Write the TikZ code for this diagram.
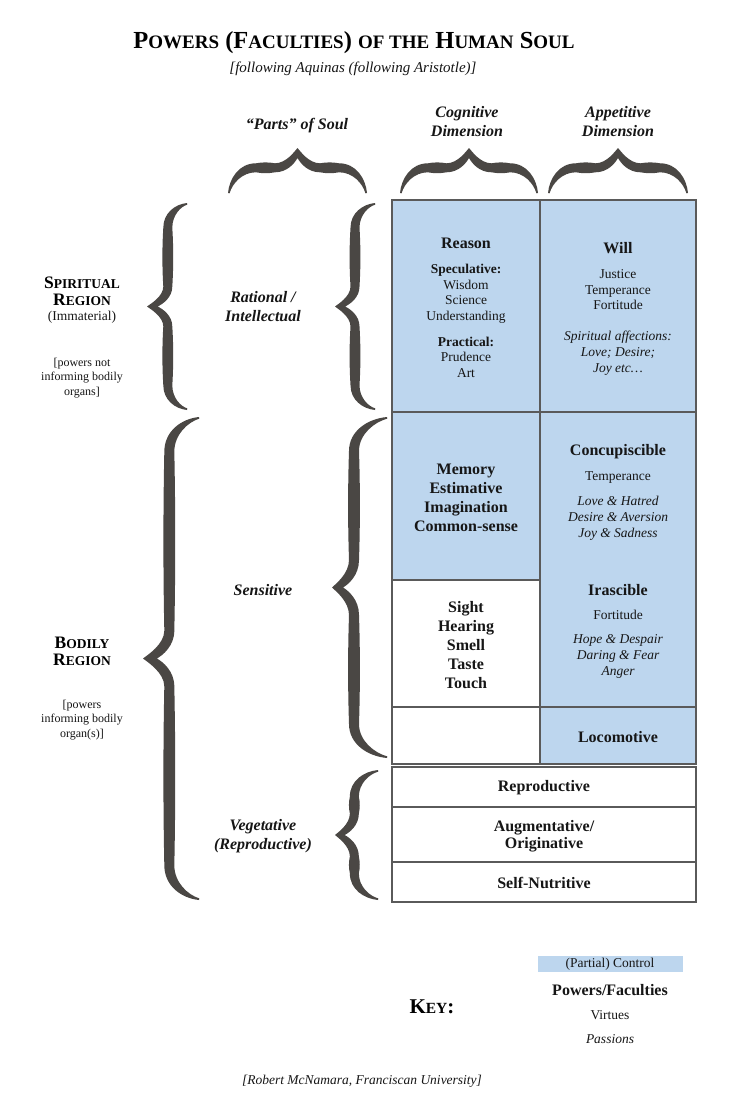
\documentclass[tikz,border=0pt]{standalone}
\usepackage{fontspec}
\setmainfont{Liberation Serif}
\definecolor{cellblue}{RGB}{189,214,238}
\definecolor{gridgray}{RGB}{90,90,90}
\definecolor{bracecol}{RGB}{74,71,68}
\definecolor{txt}{RGB}{22,22,22}
\newcommand{\fs}[2]{\fontsize{#1}{#2}\selectfont}
% brace in local coords: ends at v=0 (u=0 and u=L), tip at (L/2, D)
\newcommand{\brc}[4]{%
 \pgfmathsetmacro\bL{#1}%
 \pgfmathsetmacro\bD{#2}%
 \pgfmathsetmacro\bw{#3}%
 \pgfmathsetmacro\bm{\bL/2}%
 \pgfmathsetmacro\bs{#4*\bD}%
 \pgfmathsetmacro\bo{\bs+\bw/2}%
 \pgfmathsetmacro\bi{\bs-\bw/2}%
 \pgfmathsetmacro\bh{0.62*\bD}%
 \pgfmathsetmacro\bg{0.5*\bD}%
 \pgfmathsetmacro\bk{\bo+0.35*(\bD-\bo)}%
 \pgfmathsetmacro\bT{\bD-0.2*(\bD-\bo)}%
 \pgfmathsetmacro\bKc{\bk-0.35*(\bk-\bi)}%
 \pgfmathsetmacro\bA{\bh+(\bm-\bh-\bg)/3}%
 \pgfmathsetmacro\bB{\bm-\bg-(\bm-\bh-\bg)/3}%
 \pgfmathsetmacro\bC{\bm+\bg+(\bm-\bh-\bg)/3}%
 \pgfmathsetmacro\bE{\bL-\bh-(\bm-\bh-\bg)/3}%
 \pgfmathsetmacro\bOb{\bo+1.2}%
 \pgfmathsetmacro\bIb{\bi-1.2}%
 \fill[bracecol]
 (0,0) .. controls (0.05*\bh,0.5*\bo) and (0.4*\bh,\bo) .. (\bh,\bo)
 .. controls (\bA,\bOb) and (\bB,\bOb) .. (\bm-\bg,\bo)
 .. controls (\bm-0.5*\bg,\bo) and (\bm-0.12*\bg,\bT) .. (\bm,\bD)
 .. controls (\bm+0.12*\bg,\bT) and (\bm+0.5*\bg,\bo) .. (\bm+\bg,\bo)
 .. controls (\bC,\bOb) and (\bE,\bOb) .. (\bL-\bh,\bo)
 .. controls (\bL-0.4*\bh,\bo) and (\bL-0.05*\bh,0.5*\bo) .. (\bL,0)
 -- (\bL-1.6,-0.3)
 .. controls (\bL-0.15*\bh,0.45*\bi) and (\bL-0.5*\bh,\bi) .. (\bL-\bh,\bi)
 .. controls (\bE,\bIb) and (\bC,\bIb) .. (\bm+\bg,\bi)
 .. controls (\bm+0.45*\bg,\bi) and (\bm+0.12*\bg,\bKc) .. (\bm,\bk)
 .. controls (\bm-0.12*\bg,\bKc) and (\bm-0.45*\bg,\bi) .. (\bm-\bg,\bi)
 .. controls (\bB,\bIb) and (\bA,\bIb) .. (\bh,\bi)
 .. controls (0.5*\bh,\bi) and (0.15*\bh,0.45*\bi) .. (1.6,-0.3) -- cycle;
}
% vertical left-pointing brace: xe, ytop, ybot, depth, width, spine fraction
\newcommand{\vbrc}[6]{%
 \begin{scope}[shift={(#1,#2)}, x={(0pt,-1pt)}, y={(-1pt,0pt)}]
 \pgfmathsetmacro\bLen{#3-#2}%
 \brc{\bLen}{#4}{#5}{#6}
 \end{scope}}
% horizontal upward brace: xleft, ybottom, xright, depth, width, spine fraction
\newcommand{\hbrc}[6]{%
 \begin{scope}[shift={(#1,#2)}, x={(1pt,0pt)}, y={(0pt,1pt)}]
 \pgfmathsetmacro\bLen{#3-#1}%
 \brc{\bLen}{#4}{#5}{#6}
 \end{scope}}
\newcommand{\tsm}[1]{{\fs{19}{22}#1}}
\newcommand{\rsm}[1]{{\fs{13.5}{16}#1}}
\newcommand{\ksm}[1]{{\fs{15.5}{18}#1}}
\begin{document}
\begin{tikzpicture}[x=1pt,y=-1pt,
 every node/.style={inner sep=0pt, outer sep=0pt, align=center, text=txt},
 grid/.style={draw=gridgray, line width=1.2pt},
 head/.style={font=\fs{16}{19}\bfseries\itshape},
 part/.style={font=\fs{16}{19}\bfseries\itshape},
 power/.style={font=\fs{16}{19}\bfseries},
 virt/.style={font=\fs{13.5}{15.5}},
 pass/.style={font=\fs{13.5}{16}\itshape},
 note/.style={font=\fs{12}{14.5}}]
\useasboundingbox[fill=white] (0,0) rectangle (736,1112);

% title
\node[font=\fs{24.5}{28}\bfseries, text=black] (title) at (354,43)
 {P\tsm{OWERS} (F\tsm{ACULTIES}) \tsm{OF THE} H\tsm{UMAN} S\tsm{OUL}};
\node[font=\fs{15}{18}\itshape] (subtitle) at (353,69) {[following Aquinas (following Aristotle)]};

% column headers
\node[head] (hparts) at (297,126) {“Parts” of Soul};
\node[head] (hcog) at (467,122) {Cognitive\\Dimension};
\node[head] (happ) at (618,122) {Appetitive\\Dimension};

% top braces
\hbrc{228}{193}{367}{45}{9}{0.56}
\hbrc{400}{193}{538}{45}{9}{0.56}
\hbrc{548}{193}{688}{45}{9}{0.56}

% cells
\fill[cellblue] (392,200) rectangle (696,580);
\fill[cellblue] (540,580) rectangle (696,764);
\draw[grid] (392,200) rectangle (696,764);
\draw[grid] (540,200) -- (540,764);
\draw[grid] (392,412) -- (696,412);
\draw[grid] (392,580) -- (540,580);
\draw[grid] (392,707) -- (696,707);
\draw[grid] (392,767) rectangle (696,902);
\draw[grid] (392,807) -- (696,807);
\draw[grid] (392,862) -- (696,862);

% vertical braces
\vbrc{187}{203}{410}{40}{9}{0.48}
\vbrc{375}{203}{410}{40}{9}{0.5}
\vbrc{199}{417}{900}{56}{10}{0.53}
\vbrc{387}{417}{758}{55}{10}{0.6}
\vbrc{378}{770}{900}{43}{9}{0.55}

% left region labels
\node[font=\fs{17.5}{18}\bfseries, text=black] (spir) at (82,291)
 {S\rsm{PIRITUAL}\\[-1pt] R\rsm{EGION}};
\node[font=\fs{13.5}{16}] (immat) at (82,317) {(Immaterial)};
\node[note] (spirnote) at (82,378) {[powers not\\informing bodily\\organs]};
\node[font=\fs{17.5}{18}\bfseries, text=black] (bod) at (82,651)
 {B\rsm{ODILY}\\[-1pt] R\rsm{EGION}};
\node[note] (bodnote) at (82,720) {[powers\\informing bodily\\organ(s)]};

% parts labels
\node[part] (rational) at (263,307) {Rational /\\Intellectual};
\node[part] (sensitive) at (263,590) {Sensitive};
\node[part] (veget) at (263,836) {Vegetative\\(Reproductive)};

% rational row
\node[power] (reason) at (466,243) {Reason};
\node[virt] (spec) at (466,294) {\textbf{Speculative:}\\Wisdom\\Science\\Understanding};
\node[virt] (pract) at (466,357) {\textbf{Practical:}\\Prudence\\Art};
\node[power] (will) at (618,248) {Will};
\node[virt] (willv) at (618,290) {Justice\\Temperance\\Fortitude};
\node[pass] (willp) at (618,353) {Spiritual affections:\\Love; Desire;\\Joy etc…};

% sensitive row
\node[power] (memory) at (466,498) {Memory\\Estimative\\Imagination\\Common-sense};
\node[power] (senses) at (466,645) {Sight\\Hearing\\Smell\\Taste\\Touch};
\node[power] (concup) at (618,452) {Concupiscible};
\node[virt] (concv) at (618,478) {Temperance};
\node[pass] (concp) at (618,518) {Love \& Hatred\\Desire \& Aversion\\Joy \& Sadness};
\node[power] (irasc) at (618,590) {Irascible};
\node[virt] (irascv) at (618,615) {Fortitude};
\node[pass] (irascp) at (618,656) {Hope \& Despair\\Daring \& Fear\\Anger};
\node[power] (loco) at (618,737) {Locomotive};

% vegetative rows
\node[power] (repro) at (544,788) {Reproductive};
\node[power] (augm) at (544,836) {Augmentative/\\[-2pt]Originative};
\node[power] (selfn) at (544,883) {Self-Nutritive};

% key
\fill[cellblue] (538,956) rectangle (683,972);
\node[virt] (kctrl) at (610,964) {(Partial) Control};
\node[power] (kpow) at (610,990) {Powers/Faculties};
\node[virt] (kvirt) at (610,1015) {Virtues};
\node[pass] (kpass) at (610,1039) {Passions};
\node[font=\fs{21}{24}\bfseries, text=black] (key) at (432,1007) {K\ksm{EY}:};

% footer
\node[font=\fs{13.5}{16}\itshape] (footer) at (362,1081) {[Robert McNamara, Franciscan University]};
\end{tikzpicture}
\end{document}
